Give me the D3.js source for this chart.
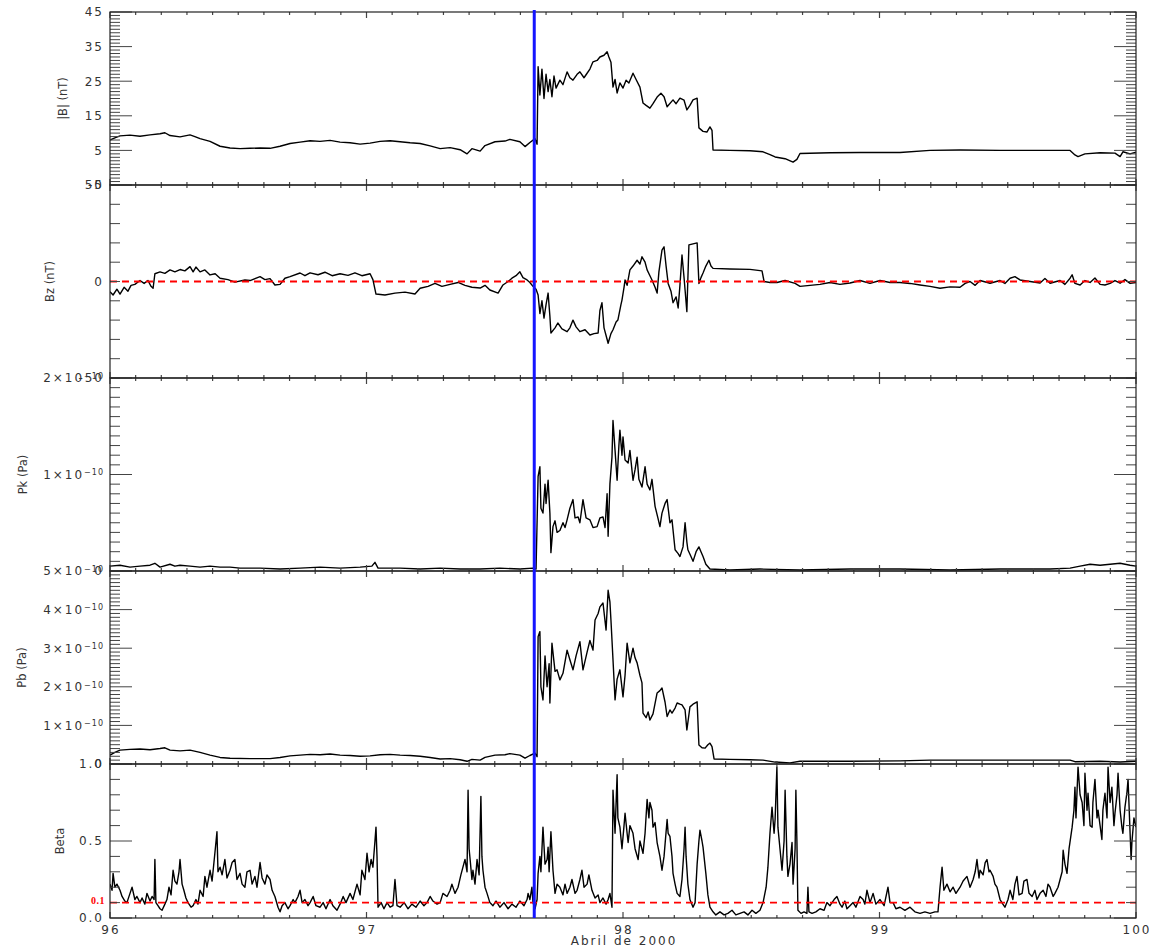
<!DOCTYPE html>
<html><head><meta charset="utf-8">
<script src="https://cdn.jsdelivr.net/npm/d3@7"></script>
<style>body{margin:0;background:#fff}</style>
</head><body><svg id="c" width="1156" height="948"></svg>
<script>
// ---------- DATA (day of year, April 2000) ----------
const dayTicks = [96, 97, 98, 99, 100];
const shockDay = 97.654;
const bzRef = 0;
const betaRef = 0.1;

const bTicks = [-5, 5, 15, 25, 35, 45];
const bzTicks = [-50, 0, 50];
const pkTicks = [0, 1, 2];          // x 1e-10 Pa
const pbTicks = [0, 1, 2, 3, 4, 5]; // x 1e-10 Pa
const betaTicks = [0, 0.5, 1];

// |B| (nT)
const magB = [[96.000,8.0],[96.019,8.6],[96.039,9.2],[96.078,9.4],[96.117,9.1],[96.156,9.5],[96.195,9.8],[96.214,10.1],[96.234,9.3],[96.273,8.9],[96.312,9.5],[96.331,9.0],[96.351,8.4],[96.390,7.6],[96.429,6.2],[96.468,5.7],[96.507,5.5],[96.546,5.6],[96.585,5.7],[96.624,5.6],[96.663,6.2],[96.702,7.0],[96.741,7.4],[96.780,7.8],[96.819,7.6],[96.858,7.9],[96.897,7.4],[96.936,7.2],[96.975,6.8],[97.014,7.1],[97.053,7.6],[97.092,7.8],[97.131,7.5],[97.170,7.2],[97.209,7.0],[97.248,6.3],[97.287,5.5],[97.326,5.8],[97.365,5.2],[97.392,4.0],[97.411,5.5],[97.443,4.8],[97.462,6.4],[97.501,7.5],[97.540,7.7],[97.559,8.2],[97.598,7.5],[97.618,6.1],[97.637,7.3],[97.657,8.4],[97.665,6.8],[97.669,29.2],[97.676,21.0],[97.684,28.5],[97.692,20.0],[97.700,27.0],[97.708,22.0],[97.715,25.5],[97.723,20.5],[97.731,26.5],[97.739,23.0],[97.754,25.3],[97.766,24.0],[97.782,27.7],[97.793,26.0],[97.805,25.3],[97.821,27.0],[97.832,27.7],[97.848,26.0],[97.860,27.3],[97.871,28.5],[97.883,30.6],[97.899,31.0],[97.910,32.0],[97.926,32.5],[97.938,33.5],[97.945,32.0],[97.953,30.5],[97.961,23.3],[97.969,25.5],[97.977,21.6],[97.988,24.5],[98.000,23.0],[98.012,25.3],[98.023,24.5],[98.039,27.3],[98.051,25.5],[98.066,23.3],[98.078,18.7],[98.090,18.0],[98.105,17.2],[98.117,18.5],[98.133,20.4],[98.148,21.5],[98.160,20.5],[98.172,17.6],[98.195,19.6],[98.207,18.5],[98.222,20.1],[98.238,19.5],[98.249,16.7],[98.261,18.0],[98.273,19.6],[98.289,20.1],[98.296,11.5],[98.312,10.5],[98.327,10.3],[98.339,11.8],[98.347,10.8],[98.351,5.1],[98.417,5.0],[98.495,4.9],[98.546,4.6],[98.573,3.8],[98.593,3.1],[98.632,2.6],[98.663,1.6],[98.678,2.4],[98.690,4.1],[98.807,4.3],[98.924,4.4],[99.080,4.4],[99.197,5.0],[99.314,5.1],[99.470,5.0],[99.626,5.0],[99.743,5.0],[99.762,3.7],[99.774,3.2],[99.801,4.0],[99.860,4.3],[99.918,4.2],[99.938,3.2],[99.949,4.6],[99.977,4.0],[100.000,4.5]];

// Bz (nT)
const bz = [[96.000,-5.3],[96.012,-7.0],[96.027,-4.0],[96.039,-6.5],[96.055,-3.0],[96.070,-5.0],[96.082,-2.0],[96.097,-1.5],[96.117,0.5],[96.133,-1.0],[96.148,0.5],[96.160,-2.5],[96.168,-3.5],[96.175,4.0],[96.195,5.0],[96.214,4.2],[96.234,6.0],[96.253,5.0],[96.273,6.2],[96.292,5.5],[96.312,7.7],[96.324,5.0],[96.335,7.5],[96.351,5.0],[96.370,6.0],[96.390,3.4],[96.410,4.0],[96.429,1.7],[96.460,1.0],[96.487,-0.3],[96.526,0.8],[96.546,0.5],[96.585,2.5],[96.604,1.0],[96.624,1.5],[96.643,-1.8],[96.663,-1.5],[96.682,1.7],[96.702,2.5],[96.741,4.4],[96.760,3.0],[96.780,4.5],[96.811,3.5],[96.838,4.8],[96.866,3.0],[96.897,4.0],[96.928,3.2],[96.955,4.5],[96.982,3.0],[97.014,4.0],[97.025,1.0],[97.037,-6.5],[97.072,-7.0],[97.111,-6.0],[97.150,-5.5],[97.189,-6.5],[97.209,-3.5],[97.240,-2.5],[97.267,-1.0],[97.294,-2.5],[97.326,-1.5],[97.357,-0.5],[97.384,-2.0],[97.411,-3.0],[97.443,-3.4],[97.462,-2.0],[97.481,-4.4],[97.513,-6.0],[97.532,-1.8],[97.552,0.0],[97.567,1.7],[97.583,3.0],[97.598,5.0],[97.610,2.0],[97.626,0.8],[97.637,-0.5],[97.649,-2.5],[97.661,-4.0],[97.669,-7.0],[97.676,-16.6],[97.684,-10.0],[97.692,-19.0],[97.700,-12.0],[97.708,-6.0],[97.715,-18.0],[97.719,-26.7],[97.735,-24.0],[97.746,-21.5],[97.762,-24.5],[97.782,-26.0],[97.793,-24.0],[97.805,-20.0],[97.817,-23.5],[97.832,-26.0],[97.852,-25.0],[97.871,-27.7],[97.887,-27.0],[97.903,-26.7],[97.910,-15.0],[97.918,-11.0],[97.926,-24.0],[97.934,-28.0],[97.942,-32.0],[97.953,-27.0],[97.961,-25.0],[97.973,-21.0],[97.980,-20.0],[97.992,-12.0],[97.996,-9.6],[98.004,-3.0],[98.008,0.8],[98.016,-2.0],[98.027,6.0],[98.039,8.0],[98.055,11.0],[98.066,9.0],[98.074,12.8],[98.086,10.0],[98.094,6.0],[98.105,3.0],[98.113,0.8],[98.125,-3.0],[98.133,-6.0],[98.140,5.0],[98.152,16.3],[98.160,18.0],[98.168,8.0],[98.176,-1.0],[98.187,-5.0],[98.195,-11.0],[98.207,-8.0],[98.215,-13.7],[98.222,-2.0],[98.230,13.7],[98.238,2.0],[98.242,-4.4],[98.249,-15.6],[98.257,19.0],[98.273,19.5],[98.289,20.0],[98.296,-1.0],[98.304,2.0],[98.312,4.4],[98.323,8.0],[98.335,11.0],[98.343,8.0],[98.351,6.8],[98.417,6.5],[98.495,6.3],[98.542,5.5],[98.550,0.0],[98.573,-0.5],[98.600,-0.5],[98.632,0.5],[98.671,-1.0],[98.690,-2.5],[98.729,-2.0],[98.768,-1.5],[98.807,-0.5],[98.846,-1.5],[98.885,-0.8],[98.924,0.5],[98.963,-1.0],[99.002,0.5],[99.041,-0.5],[99.080,-0.5],[99.119,-1.0],[99.158,-1.8],[99.197,-2.5],[99.236,-3.5],[99.275,-2.8],[99.314,-3.0],[99.334,-1.0],[99.353,0.0],[99.373,-2.0],[99.392,0.5],[99.431,-0.9],[99.470,0.5],[99.489,-1.0],[99.509,1.7],[99.528,2.5],[99.548,0.8],[99.587,0.0],[99.626,-0.8],[99.645,1.5],[99.665,-0.9],[99.704,0.5],[99.723,-1.5],[99.743,1.7],[99.751,3.5],[99.762,-1.0],[99.782,-1.8],[99.801,0.5],[99.821,-0.5],[99.840,1.8],[99.860,-1.5],[99.879,-1.8],[99.899,-1.0],[99.918,0.5],[99.938,-0.9],[99.957,1.0],[99.977,-1.0],[100.000,-0.5]];

// Pk (units of 1e-10 Pa)
const pk = [[96.000,0.05],[96.039,0.06],[96.078,0.04],[96.117,0.05],[96.156,0.06],[96.175,0.08],[96.195,0.04],[96.234,0.07],[96.253,0.05],[96.273,0.06],[96.312,0.05],[96.351,0.04],[96.390,0.05],[96.429,0.04],[96.468,0.04],[96.507,0.03],[96.585,0.03],[96.663,0.02],[96.741,0.03],[96.819,0.04],[96.897,0.03],[96.975,0.04],[97.021,0.05],[97.033,0.09],[97.045,0.03],[97.131,0.03],[97.209,0.02],[97.287,0.03],[97.365,0.02],[97.443,0.02],[97.520,0.03],[97.598,0.02],[97.649,0.03],[97.661,0.02],[97.669,0.98],[97.676,1.08],[97.680,0.65],[97.688,0.60],[97.696,0.90],[97.700,0.70],[97.708,0.94],[97.715,0.60],[97.719,0.19],[97.727,0.46],[97.735,0.52],[97.743,0.40],[97.754,0.42],[97.766,0.50],[97.774,0.45],[97.782,0.53],[97.793,0.65],[97.805,0.74],[97.813,0.55],[97.825,0.56],[97.832,0.50],[97.844,0.74],[97.856,0.55],[97.871,0.53],[97.883,0.45],[97.899,0.46],[97.910,0.55],[97.922,0.56],[97.930,0.45],[97.938,0.80],[97.942,0.36],[97.949,0.90],[97.957,1.18],[97.961,1.56],[97.969,1.25],[97.977,0.94],[97.984,1.30],[97.988,1.46],[97.996,1.20],[98.000,1.39],[98.008,1.15],[98.020,1.12],[98.027,1.25],[98.039,0.94],[98.047,1.05],[98.055,1.18],[98.062,0.95],[98.074,0.87],[98.086,1.08],[98.094,0.90],[98.105,0.84],[98.113,0.95],[98.125,0.67],[98.136,0.55],[98.144,0.46],[98.152,0.60],[98.164,0.70],[98.172,0.74],[98.183,0.50],[98.191,0.53],[98.203,0.22],[98.215,0.18],[98.222,0.15],[98.234,0.25],[98.242,0.50],[98.249,0.30],[98.253,0.22],[98.265,0.15],[98.273,0.10],[98.285,0.20],[98.296,0.25],[98.304,0.20],[98.312,0.15],[98.323,0.07],[98.339,0.02],[98.417,0.01],[98.534,0.02],[98.690,0.01],[98.885,0.02],[99.080,0.02],[99.275,0.01],[99.470,0.02],[99.665,0.02],[99.743,0.03],[99.782,0.05],[99.821,0.07],[99.860,0.06],[99.899,0.07],[99.938,0.08],[99.977,0.06],[100.000,0.05]];

// Pb (units of 1e-10 Pa)
const pb = [[96.000,0.23],[96.019,0.30],[96.039,0.36],[96.078,0.38],[96.117,0.39],[96.156,0.37],[96.195,0.40],[96.214,0.42],[96.234,0.36],[96.273,0.34],[96.312,0.36],[96.351,0.30],[96.390,0.23],[96.429,0.17],[96.468,0.15],[96.546,0.14],[96.624,0.14],[96.663,0.17],[96.702,0.21],[96.741,0.23],[96.780,0.25],[96.819,0.24],[96.858,0.26],[96.897,0.23],[96.936,0.22],[96.975,0.20],[97.014,0.21],[97.053,0.24],[97.092,0.25],[97.131,0.23],[97.170,0.22],[97.209,0.20],[97.248,0.17],[97.287,0.13],[97.326,0.14],[97.365,0.11],[97.392,0.07],[97.411,0.12],[97.443,0.10],[97.462,0.17],[97.501,0.23],[97.540,0.24],[97.559,0.27],[97.598,0.23],[97.618,0.15],[97.637,0.22],[97.657,0.28],[97.665,0.19],[97.669,3.30],[97.676,3.43],[97.680,2.00],[97.688,1.66],[97.696,2.80],[97.704,2.00],[97.712,2.60],[97.715,1.58],[97.723,3.13],[97.735,2.40],[97.743,2.44],[97.754,2.18],[97.766,2.35],[97.782,2.95],[97.793,2.70],[97.805,2.44],[97.817,2.80],[97.832,3.17],[97.844,2.44],[97.860,2.90],[97.871,3.20],[97.883,2.95],[97.891,3.73],[97.903,3.90],[97.910,4.07],[97.922,4.17],[97.934,3.47],[97.942,4.50],[97.949,4.20],[97.953,3.73],[97.961,2.70],[97.969,1.66],[97.977,2.20],[97.988,2.44],[98.000,1.74],[98.008,2.30],[98.016,3.13],[98.027,2.62],[98.039,3.00],[98.047,2.75],[98.055,2.62],[98.066,2.30],[98.074,2.10],[98.078,1.32],[98.090,1.20],[98.098,1.35],[98.105,1.14],[98.117,1.30],[98.133,1.84],[98.144,1.90],[98.152,1.97],[98.164,1.60],[98.172,1.23],[98.183,1.40],[98.191,1.32],[98.203,1.45],[98.211,1.58],[98.222,1.55],[98.230,1.53],[98.242,1.40],[98.249,0.88],[98.261,1.48],[98.273,1.55],[98.289,1.61],[98.296,0.49],[98.308,0.42],[98.320,0.41],[98.331,0.50],[98.339,0.54],[98.347,0.45],[98.355,0.13],[98.417,0.12],[98.495,0.11],[98.546,0.10],[98.593,0.05],[98.651,0.03],[98.690,0.07],[98.885,0.07],[99.080,0.08],[99.197,0.10],[99.470,0.10],[99.743,0.10],[99.762,0.06],[99.860,0.07],[99.938,0.05],[100.000,0.07]];

// plasma beta
const beta = [[96.000,0.22],[96.008,0.18],[96.012,0.29],[96.019,0.20],[96.027,0.22],[96.039,0.18],[96.047,0.14],[96.058,0.11],[96.066,0.10],[96.078,0.16],[96.086,0.20],[96.097,0.12],[96.105,0.14],[96.117,0.10],[96.125,0.13],[96.136,0.09],[96.144,0.16],[96.156,0.11],[96.164,0.14],[96.172,0.12],[96.175,0.38],[96.179,0.10],[96.187,0.08],[96.195,0.06],[96.203,0.05],[96.214,0.09],[96.222,0.12],[96.230,0.20],[96.238,0.15],[96.246,0.31],[96.253,0.24],[96.261,0.22],[96.269,0.30],[96.273,0.38],[96.281,0.22],[96.288,0.18],[96.296,0.13],[96.304,0.10],[96.316,0.07],[96.324,0.08],[96.335,0.12],[96.343,0.09],[96.351,0.18],[96.363,0.14],[96.370,0.27],[96.378,0.20],[96.390,0.31],[96.398,0.24],[96.410,0.44],[96.417,0.56],[96.421,0.30],[96.429,0.33],[96.437,0.28],[96.448,0.38],[96.456,0.26],[96.468,0.31],[96.476,0.36],[96.487,0.38],[96.495,0.25],[96.507,0.29],[96.515,0.22],[96.526,0.20],[96.534,0.30],[96.546,0.31],[96.554,0.22],[96.565,0.27],[96.573,0.20],[96.585,0.36],[96.593,0.26],[96.604,0.22],[96.612,0.28],[96.624,0.25],[96.632,0.18],[96.643,0.14],[96.655,0.07],[96.663,0.04],[96.671,0.08],[96.682,0.10],[96.694,0.06],[96.702,0.08],[96.714,0.12],[96.721,0.10],[96.733,0.14],[96.741,0.18],[96.749,0.10],[96.760,0.12],[96.772,0.08],[96.780,0.10],[96.792,0.14],[96.803,0.08],[96.819,0.07],[96.831,0.10],[96.842,0.06],[96.858,0.12],[96.869,0.08],[96.885,0.05],[96.897,0.09],[96.909,0.14],[96.920,0.10],[96.936,0.16],[96.947,0.12],[96.963,0.22],[96.975,0.15],[96.982,0.31],[96.994,0.25],[97.002,0.42],[97.010,0.30],[97.018,0.38],[97.025,0.33],[97.033,0.50],[97.037,0.59],[97.041,0.40],[97.045,0.07],[97.057,0.10],[97.068,0.06],[97.080,0.10],[97.092,0.07],[97.103,0.08],[97.111,0.25],[97.119,0.08],[97.131,0.07],[97.147,0.10],[97.162,0.06],[97.177,0.09],[97.193,0.07],[97.209,0.11],[97.224,0.08],[97.236,0.10],[97.248,0.14],[97.259,0.11],[97.275,0.09],[97.287,0.10],[97.298,0.16],[97.314,0.14],[97.326,0.18],[97.333,0.22],[97.345,0.16],[97.357,0.20],[97.368,0.28],[97.376,0.33],[97.384,0.38],[97.392,0.30],[97.396,0.83],[97.400,0.45],[97.404,0.38],[97.411,0.25],[97.415,0.31],[97.423,0.22],[97.431,0.38],[97.439,0.28],[97.446,0.79],[97.450,0.40],[97.454,0.31],[97.462,0.20],[97.470,0.16],[97.481,0.10],[97.493,0.08],[97.505,0.11],[97.520,0.07],[97.536,0.10],[97.552,0.06],[97.567,0.09],[97.583,0.07],[97.598,0.11],[97.614,0.08],[97.626,0.12],[97.630,0.16],[97.637,0.12],[97.645,0.20],[97.649,0.10],[97.657,0.06],[97.665,0.12],[97.669,0.29],[97.676,0.40],[97.680,0.30],[97.688,0.59],[97.696,0.35],[97.704,0.38],[97.708,0.46],[97.712,0.30],[97.719,0.56],[97.727,0.31],[97.735,0.16],[97.743,0.22],[97.754,0.20],[97.766,0.15],[97.774,0.22],[97.782,0.16],[97.793,0.20],[97.801,0.25],[97.813,0.16],[97.821,0.18],[97.832,0.25],[97.840,0.31],[97.848,0.20],[97.860,0.22],[97.867,0.28],[97.879,0.18],[97.891,0.13],[97.903,0.15],[97.910,0.10],[97.922,0.13],[97.934,0.09],[97.942,0.12],[97.949,0.16],[97.957,0.07],[97.961,0.83],[97.969,0.55],[97.977,0.93],[97.980,0.65],[97.988,0.59],[97.996,0.45],[98.004,0.60],[98.008,0.68],[98.016,0.55],[98.020,0.49],[98.027,0.60],[98.039,0.55],[98.047,0.45],[98.059,0.38],[98.066,0.50],[98.078,0.42],[98.086,0.55],[98.094,0.77],[98.101,0.65],[98.105,0.75],[98.113,0.70],[98.117,0.59],[98.125,0.62],[98.133,0.49],[98.144,0.40],[98.152,0.31],[98.160,0.40],[98.172,0.64],[98.176,0.55],[98.183,0.53],[98.191,0.40],[98.195,0.29],[98.203,0.22],[98.211,0.16],[98.222,0.14],[98.230,0.25],[98.238,0.45],[98.242,0.59],[98.246,0.40],[98.253,0.22],[98.261,0.12],[98.273,0.07],[98.281,0.10],[98.289,0.35],[98.296,0.50],[98.300,0.57],[98.308,0.50],[98.312,0.46],[98.323,0.29],[98.331,0.15],[98.339,0.07],[98.351,0.04],[98.362,0.02],[98.378,0.04],[98.394,0.02],[98.409,0.03],[98.425,0.05],[98.440,0.02],[98.456,0.03],[98.472,0.04],[98.487,0.02],[98.503,0.05],[98.518,0.03],[98.534,0.05],[98.546,0.10],[98.558,0.20],[98.565,0.33],[98.573,0.55],[98.581,0.72],[98.589,0.55],[98.593,0.64],[98.600,0.98],[98.604,0.59],[98.612,0.45],[98.620,0.31],[98.628,0.50],[98.632,0.83],[98.639,0.40],[98.643,0.27],[98.651,0.35],[98.659,0.49],[98.663,0.22],[98.671,0.45],[98.674,0.83],[98.678,0.50],[98.682,0.05],[98.694,0.03],[98.706,0.04],[98.717,0.03],[98.721,0.20],[98.725,0.04],[98.737,0.03],[98.752,0.04],[98.768,0.06],[98.784,0.05],[98.795,0.10],[98.807,0.08],[98.823,0.12],[98.834,0.14],[98.846,0.09],[98.854,0.07],[98.865,0.11],[98.873,0.06],[98.885,0.08],[98.897,0.10],[98.908,0.07],[98.924,0.14],[98.936,0.12],[98.943,0.09],[98.951,0.18],[98.963,0.10],[98.975,0.16],[98.986,0.09],[99.002,0.12],[99.018,0.08],[99.033,0.20],[99.041,0.10],[99.053,0.10],[99.064,0.06],[99.080,0.07],[99.099,0.05],[99.119,0.07],[99.138,0.04],[99.158,0.03],[99.177,0.04],[99.197,0.03],[99.216,0.04],[99.228,0.04],[99.236,0.20],[99.244,0.33],[99.251,0.18],[99.263,0.22],[99.275,0.17],[99.287,0.20],[99.298,0.16],[99.314,0.20],[99.326,0.24],[99.341,0.27],[99.353,0.20],[99.365,0.25],[99.373,0.30],[99.380,0.38],[99.388,0.26],[99.392,0.31],[99.404,0.28],[99.412,0.36],[99.419,0.38],[99.427,0.30],[99.431,0.31],[99.443,0.27],[99.450,0.22],[99.458,0.20],[99.470,0.12],[99.481,0.09],[99.489,0.07],[99.501,0.12],[99.509,0.18],[99.520,0.12],[99.528,0.22],[99.536,0.27],[99.544,0.15],[99.556,0.16],[99.563,0.24],[99.575,0.25],[99.583,0.16],[99.595,0.14],[99.606,0.18],[99.614,0.12],[99.626,0.16],[99.638,0.18],[99.649,0.14],[99.657,0.22],[99.665,0.20],[99.677,0.14],[99.684,0.16],[99.696,0.20],[99.704,0.25],[99.712,0.30],[99.716,0.44],[99.723,0.35],[99.731,0.29],[99.739,0.45],[99.751,0.59],[99.758,0.70],[99.762,0.85],[99.766,0.65],[99.774,0.98],[99.782,0.80],[99.790,0.75],[99.797,0.60],[99.801,0.94],[99.809,0.70],[99.813,0.81],[99.821,0.60],[99.829,0.59],[99.832,0.75],[99.840,0.90],[99.848,0.65],[99.852,0.70],[99.860,0.60],[99.867,0.51],[99.871,0.70],[99.879,0.81],[99.887,0.65],[99.891,0.98],[99.899,0.75],[99.906,0.85],[99.914,0.60],[99.918,0.68],[99.926,0.80],[99.930,0.94],[99.938,0.70],[99.945,0.59],[99.949,0.55],[99.957,0.72],[99.965,0.82],[99.969,0.90],[99.977,0.55],[99.981,0.38],[99.984,0.49],[99.992,0.65],[100.000,0.59]];

// ---------- LAYOUT ----------
const W = 1156, H = 948;
const X0 = 110, X1 = 1136;
const FONT = "'DejaVu Sans', sans-serif";
const TXT = "#333";
const svg = d3.select("#c");
const x = d3.scaleLinear().domain([dayTicks[0], dayTicks[dayTicks.length - 1]]).range([X0, X1]);

const plain = v => ({main: String(v)});
const sci = v => v === 0 ? {main: "0"} : {main: v + "×10", sup: "−10"};
const panels = [
  {id: "b", data: magB, title: "|B| (nT)", tx: 63, top: 12, bottom: 185, domain: [-5, 45], major: bTicks, minorStep: 1, majorLen: 22, minorLen: 10, fmt: plain},
  {id: "bz", data: bz, title: "Bz (nT)", tx: 50, top: 185, bottom: 378, domain: [-50, 50], major: bzTicks, minorStep: 10, majorLen: 10, minorLen: 10, fmt: plain, ref: bzRef},
  {id: "pk", data: pk, title: "Pk (Pa)", tx: 23, top: 378, bottom: 571, domain: [0, 2], major: pkTicks, minorStep: 0.1, majorLen: 22, minorLen: 10, fmt: sci},
  {id: "pb", data: pb, title: "Pb (Pa)", tx: 22, top: 571, bottom: 764, domain: [0, 5], major: pbTicks, minorStep: 0.1, majorLen: 22, minorLen: 10, fmt: sci},
  {id: "beta", data: beta, title: "Beta", tx: 60, top: 764, bottom: 918, domain: [0, 1], major: betaTicks, minorStep: 0.1, majorLen: 22, minorLen: 10, fmt: v => ({main: v.toFixed(1)}), ref: betaRef, refLabel: "0.1"}
];

const defs = svg.append("defs");
const gData = svg.append("g");
const gRef = svg.append("g");
const gAxes = svg.append("g");
const gText = svg.append("g");

panels.forEach(p => {
  const y = d3.scaleLinear().domain(p.domain).range([p.bottom, p.top]);
  p.y = y;
  defs.append("clipPath").attr("id", "clip-" + p.id)
    .append("rect").attr("x", X0).attr("y", p.top).attr("width", X1 - X0).attr("height", p.bottom - p.top);

  const line = d3.line().x(d => x(d[0])).y(d => y(d[1]));
  gData.append("path").datum(p.data)
    .attr("clip-path", `url(#clip-${p.id})`)
    .attr("d", line).attr("fill", "none").attr("stroke", "#000")
    .attr("stroke-width", 1.4).attr("stroke-linejoin", "round");

  if (p.ref !== undefined) {
    gRef.append("line").attr("x1", X0).attr("x2", X1)
      .attr("y1", y(p.ref)).attr("y2", y(p.ref))
      .attr("stroke", "#ff0000").attr("stroke-width", 1.8).attr("stroke-dasharray", "7,5");
  }

  const [lo, hi] = p.domain;
  const nMinor = Math.round((hi - lo) / p.minorStep);
  const minorVals = d3.range(nMinor + 1).map(i => lo + i * p.minorStep);
  const isMajor = v => p.major.some(m => Math.abs(m - v) < 1e-9);
  minorVals.forEach(v => {
    const len = isMajor(v) ? p.majorLen : p.minorLen;
    const yy = y(v);
    gAxes.append("line").attr("x1", X0).attr("x2", X0 + len).attr("y1", yy).attr("y2", yy)
      .attr("stroke", "#444").attr("stroke-width", 1);
    gAxes.append("line").attr("x1", X1).attr("x2", X1 - len).attr("y1", yy).attr("y2", yy)
      .attr("stroke", "#444").attr("stroke-width", 1);
  });

  const xMinor = d3.range(0, (dayTicks.length - 1) * 10 + 1).map(i => dayTicks[0] + i * 0.1);
  xMinor.forEach((d, i) => {
    const len = i % 10 === 0 ? 6 : 3;
    const xx = x(d);
    gAxes.append("line").attr("x1", xx).attr("x2", xx).attr("y1", p.top).attr("y2", p.top + len)
      .attr("stroke", "#444").attr("stroke-width", 1.2);
    gAxes.append("line").attr("x1", xx).attr("x2", xx).attr("y1", p.bottom).attr("y2", p.bottom - len)
      .attr("stroke", "#444").attr("stroke-width", 1.2);
  });

  gAxes.append("rect").attr("x", X0).attr("y", p.top).attr("width", X1 - X0).attr("height", p.bottom - p.top)
    .attr("fill", "none").attr("stroke", "#222").attr("stroke-width", 1.2);

  p.major.forEach(v => {
    const lab = p.fmt(v);
    const t = gText.append("text").attr("x", 104).attr("y", y(v)).attr("dy", "0.36em")
      .attr("text-anchor", "end").attr("font-family", FONT).attr("font-size", 12)
      .attr("letter-spacing", "2px").attr("fill", TXT);
    t.append("tspan").text(lab.main);
    if (lab.sup) {
      t.append("tspan").attr("font-size", 8).attr("letter-spacing", "1px").attr("dy", "-0.45em").text(lab.sup);
    }
  });

  if (p.refLabel) {
    gText.append("text").attr("x", 105).attr("y", y(p.ref) - 2).attr("dy", "0.35em")
      .attr("text-anchor", "end").attr("font-family", "'Liberation Serif', serif")
      .attr("font-weight", "bold").attr("font-size", 10).attr("letter-spacing", "0.5px")
      .attr("fill", "#ff0000").text(p.refLabel);
  }

  const cy = (p.top + p.bottom) / 2;
  gText.append("text").attr("transform", `translate(${p.tx},${cy}) rotate(-90)`)
    .attr("text-anchor", "middle").attr("dy", "0.35em")
    .attr("font-family", FONT).attr("font-size", 11.5).attr("fill", TXT).text(p.title);
});

const last = panels[panels.length - 1];
dayTicks.forEach(d => {
  gText.append("text").attr("x", x(d) + 1).attr("y", last.bottom + 12).attr("dy", "0.36em")
    .attr("text-anchor", "middle").attr("font-family", FONT).attr("font-size", 12)
    .attr("letter-spacing", "2px").attr("fill", TXT).text(d);
});
gText.append("text").attr("x", (X0 + X1) / 2 + 1).attr("y", last.bottom + 23).attr("dy", "0.36em")
  .attr("text-anchor", "middle").attr("font-family", FONT).attr("font-size", 12)
  .attr("letter-spacing", "2px").attr("fill", TXT).text("Abril de 2000");

svg.append("line").attr("x1", x(shockDay)).attr("x2", x(shockDay))
  .attr("y1", panels[0].top - 2).attr("y2", last.bottom)
  .attr("stroke", "#1515ff").attr("stroke-width", 3);
</script>
</body></html>
